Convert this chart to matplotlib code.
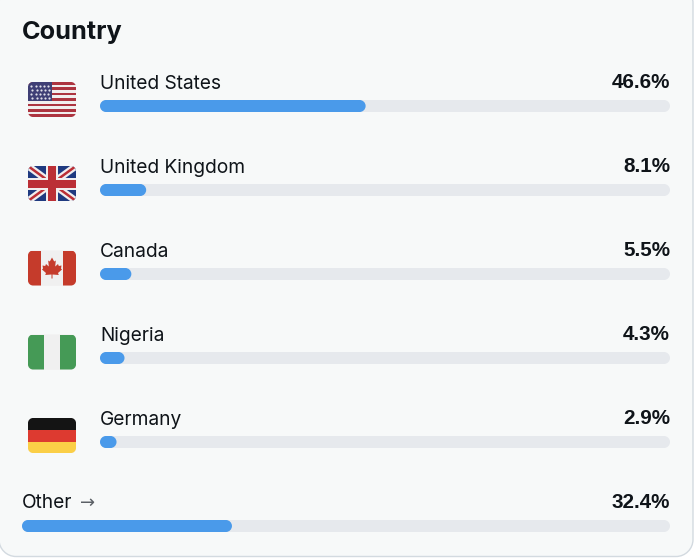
"""
Country breakdown card
"""

import matplotlib.pyplot as plt
from matplotlib.patches import PathPatch, Rectangle, Polygon
from matplotlib.path import Path

countries = ["United States", "United Kingdom", "Canada", "Nigeria", "Germany"]
country_shares = [46.6, 8.1, 5.5, 4.3, 2.9]
other_label = "Other"
other_share = 32.4
title = "Country"

BAR_COLOR = "#4a9aea"
TRACK_COLOR = "#e6e9ed"
CARD_COLOR = "#f7f9f9"
TEXT_COLOR = "#0f1419"
PCT_FONT = ["Liberation Sans", "DejaVu Sans"]

plt.rcParams["font.family"] = ["Inter", "DejaVu Sans"]


def rounded(ax, x, y, w, h, r, **kw):
    # прямоугольник со скруглением настоящими дугами
    k = r * 0.4477
    x2, y2 = x + w, y + h
    verts = [
        (x + r, y), (x2 - r, y),
        (x2 - k, y), (x2, y + k), (x2, y + r),
        (x2, y2 - r),
        (x2, y2 - k), (x2 - k, y2), (x2 - r, y2),
        (x + r, y2),
        (x + k, y2), (x, y2 - k), (x, y2 - r),
        (x, y + r),
        (x, y + k), (x + k, y), (x + r, y),
    ]
    codes = [Path.MOVETO, Path.LINETO] + [Path.CURVE4] * 3 + [Path.LINETO] + [Path.CURVE4] * 3
    codes += [Path.LINETO] + [Path.CURVE4] * 3 + [Path.LINETO] + [Path.CURVE4] * 3
    patch = PathPatch(Path(verts, codes), **kw)
    ax.add_patch(patch)
    return patch


def draw_bar(ax, x, y, full_w, share):
    rounded(ax, x, y, full_w, 12, 6, fc=TRACK_COLOR, ec="none", zorder=2)
    rounded(ax, x, y, full_w * share / 100, 12, 6, fc=BAR_COLOR, ec="none", zorder=3)


def add_rect(ax, clip, x, y, w, h, color):
    r = Rectangle((x, y), w, h, fc=color, ec="none", zorder=5)
    ax.add_patch(r)
    r.set_clip_path(clip)


def add_diag(ax, clip, xs, ys, color, lw):
    line = ax.plot(xs, ys, color=color, lw=lw, solid_capstyle="butt", zorder=5)[0]
    line.set_clip_path(clip)


def flag_us(ax, x, y, clip):
    add_rect(ax, clip, x, y, 48, 35, "#f1eeee")
    for i in range(0, 13, 2):
        add_rect(ax, clip, x, y + i * 35 / 13, 48, 35 / 13, "#ad3440")
    add_rect(ax, clip, x, y, 24, 19, "#3f3f75")
    xs, ys = [], []
    for row in range(4):
        for col in range(5):
            xs.append(x + 3.5 + col * 4.2 + (row % 2) * 1.0)
            ys.append(y + 3.5 + row * 4)
    ax.scatter(xs, ys, s=2.5, c="#e0e0ea", linewidths=0, zorder=6)


def flag_uk(ax, x, y, clip):
    cx, cy = x + 24, y + 17.5
    add_rect(ax, clip, x, y, 48, 35, "#1f3a80")
    add_diag(ax, clip, [x, x + 48], [y, y + 35], "#f1eeee", 5)
    add_diag(ax, clip, [x, x + 48], [y + 35, y], "#f1eeee", 5)
    add_diag(ax, clip, [x, x + 48], [y, y + 35], "#bb2f36", 1.8)
    add_diag(ax, clip, [x, x + 48], [y + 35, y], "#bb2f36", 1.8)
    add_rect(ax, clip, cx - 6, y, 12, 35, "#f1eeee")
    add_rect(ax, clip, x, cy - 6, 48, 12, "#f1eeee")
    add_rect(ax, clip, cx - 4, y, 8, 35, "#bb2f36")
    add_rect(ax, clip, x, cy - 4, 48, 8, "#bb2f36")


def flag_ca(ax, x, y, clip):
    red = "#c53b2b"
    add_rect(ax, clip, x, y, 48, 35, "#f0f0f0")
    add_rect(ax, clip, x, y, 13, 35, red)
    add_rect(ax, clip, x + 35, y, 13, 35, red)
    cx = x + 24
    half = [(0, 7), (2.2, 11), (3.8, 10), (3.2, 16), (6, 13.5), (6.8, 15.5), (9.5, 15),
            (9, 18), (10, 19), (6, 22.5), (6.8, 24.5), (0.5, 24), (0.5, 28)]
    pts = [(cx + a, y + b) for a, b in half]
    pts += [(cx - a, y + b) for a, b in reversed(half)]
    ax.add_patch(Polygon(pts, closed=True, fc=red, ec="none", zorder=6))


def flag_ng(ax, x, y, clip):
    add_rect(ax, clip, x, y, 16, 35, "#459a56")
    add_rect(ax, clip, x + 16, y, 16, 35, "#f0f0f0")
    add_rect(ax, clip, x + 32, y, 16, 35, "#459a56")


def flag_de(ax, x, y, clip):
    add_rect(ax, clip, x, y, 48, 12, "#141414")
    add_rect(ax, clip, x, y + 12, 48, 12, "#dd3a30")
    add_rect(ax, clip, x, y + 24, 48, 11, "#fbcf47")


flag_painters = [flag_us, flag_uk, flag_ca, flag_ng, flag_de]

fig = plt.figure(figsize=(6.94, 5.6), dpi=100)
ax = fig.add_axes([0, 0, 1, 1])
ax.set_xlim(0, 694)
ax.set_ylim(560, 0)
ax.axis("off")

# Карточка
rounded(ax, -1, -14, 694, 570.5, 17, fc=CARD_COLOR, ec="#d3dae0", lw=1, zorder=1)

ax.text(22, 33, title, fontsize=18.2, fontweight="bold", color=TEXT_COLOR, va="center", ha="left")

flag_ys = [82, 166, 250.5, 334.5, 418]
for i, (name, share) in enumerate(zip(countries, country_shares)):
    row_y = 82.5 + i * 84
    ax.text(100, row_y + 1.5, name, fontsize=13.8, color=TEXT_COLOR, va="center", ha="left")
    ax.text(670, row_y + 0.5, f"{share}%", fontsize=14.9, fontweight="bold", color=TEXT_COLOR,
            va="center", ha="right", family=PCT_FONT)
    draw_bar(ax, 100, row_y + 17.5, 570, share)

    fy = flag_ys[i]
    clip = rounded(ax, 28, fy, 48, 35, 5, fc="#f1eeee", ec="none", zorder=4)
    flag_painters[i](ax, 28, fy, clip)

# Other
ax.text(22, 503.5, other_label, fontsize=13.8, color=TEXT_COLOR, va="center", ha="left")
ax.text(88, 502.5, "→", fontsize=13, color="#5b6066", va="center", ha="center",
        family=["DejaVu Sans"])
ax.text(670, 502.5, f"{other_share}%", fontsize=14.9, fontweight="bold", color=TEXT_COLOR,
        va="center", ha="right", family=PCT_FONT)
draw_bar(ax, 22, 520, 648, other_share)

plt.savefig("out.png", dpi=100, facecolor="white")
plt.close()
